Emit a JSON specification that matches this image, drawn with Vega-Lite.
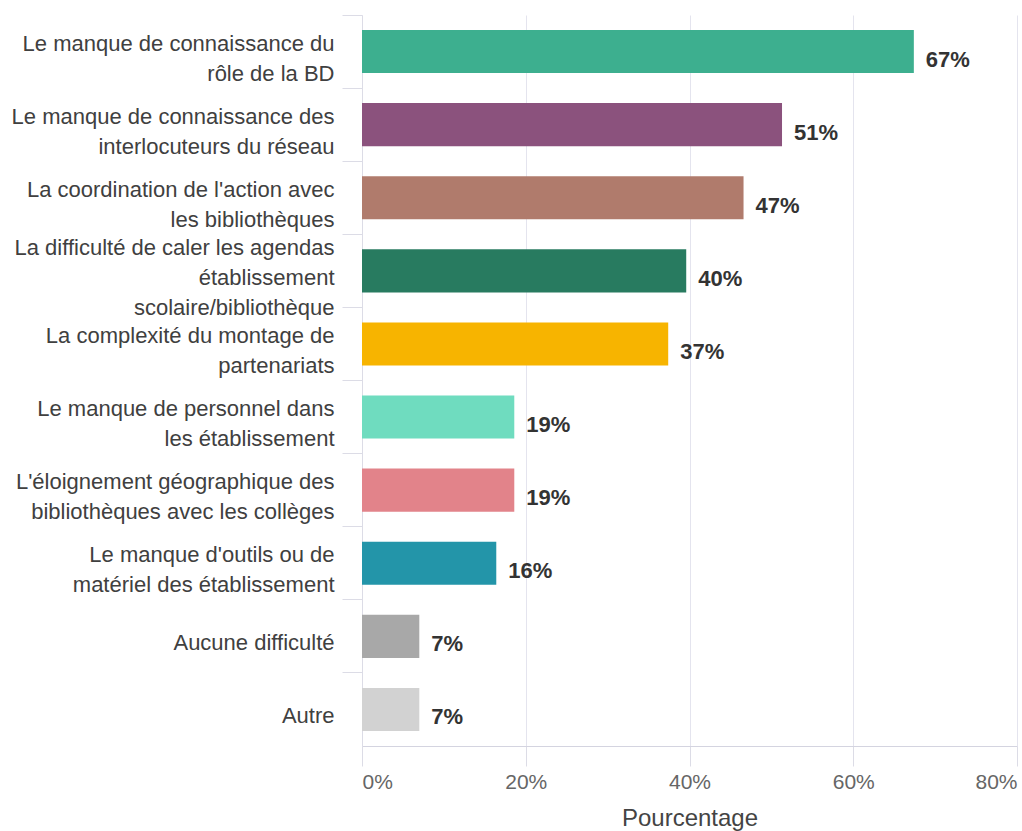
{
  "$schema": "https://vega.github.io/schema/vega-lite/v6.json",
  "autosize": "none",
  "padding": {"left": 362, "top": 15, "right": 5, "bottom": 85},
  "width": 655,
  "height": 731,
  "background": "white",
  "config": {
    "view": {"stroke": null},
    "font": "Liberation Sans"
  },
  "data": {
    "values": [
      {"difficulte": "Le manque de connaissance du\nrôle de la BD", "part": 0.674},
      {"difficulte": "Le manque de connaissance des\ninterlocuteurs du réseau", "part": 0.513},
      {"difficulte": "La coordination de l'action avec\nles bibliothèques", "part": 0.466},
      {"difficulte": "La difficulté de caler les agendas\nétablissement\nscolaire/bibliothèque", "part": 0.396},
      {"difficulte": "La complexité du montage de\npartenariats", "part": 0.374},
      {"difficulte": "Le manque de personnel dans\nles établissement", "part": 0.186},
      {"difficulte": "L'éloignement géographique des\nbibliothèques avec les collèges", "part": 0.186},
      {"difficulte": "Le manque d'outils ou de\nmatériel des établissement", "part": 0.164},
      {"difficulte": "Aucune difficulté", "part": 0.07},
      {"difficulte": "Autre", "part": 0.07}
    ]
  },
  "encoding": {
    "y": {
      "field": "difficulte",
      "type": "nominal",
      "sort": null,
      "scale": {"paddingInner": 0, "paddingOuter": 0},
      "axis": {
        "title": null,
        "bandPosition": 0,
        "tickSize": 20,
        "tickColor": "#dcdce6",
        "domainColor": "#dcdce6",
        "labelPadding": 8,
        "labelFontSize": 22,
        "labelLineHeight": 30,
        "labelBaseline": "middle",
        "labelOffset": {
          "condition": [
            {"test": "length(split(datum.value, '\\n')) == 1", "value": 7},
            {"test": "length(split(datum.value, '\\n')) == 3", "value": -23}
          ],
          "value": -8
        },
        "labelColor": "#404040",
        "labelLimit": 500,
        "labelExpr": "split(datum.value, '\\n')"
      }
    },
    "x": {
      "field": "part",
      "type": "quantitative",
      "scale": {"domain": [0, 0.8]},
      "axis": {
        "values": [0, 0.2, 0.4, 0.6, 0.8],
        "format": ".0%",
        "grid": true,
        "gridColor": "#e4e4ee",
        "tickSize": 20,
        "tickColor": "#dcdce6",
        "domainColor": "#d4d4e0",
        "labelPadding": 5,
        "labelFontSize": 21,
        "labelColor": "#666666",
        "title": "Pourcentage",
        "titleFontSize": 24,
        "titleFontWeight": "normal",
        "titleColor": "#444444",
        "titlePadding": 14
      }
    }
  },
  "layer": [
    {
      "mark": {"type": "bar", "height": {"band": 0.59}},
      "encoding": {
        "color": {
          "field": "difficulte",
          "type": "nominal",
          "legend": null,
          "scale": {
            "domain": [
              "Le manque de connaissance du\nrôle de la BD",
              "Le manque de connaissance des\ninterlocuteurs du réseau",
              "La coordination de l'action avec\nles bibliothèques",
              "La difficulté de caler les agendas\nétablissement\nscolaire/bibliothèque",
              "La complexité du montage de\npartenariats",
              "Le manque de personnel dans\nles établissement",
              "L'éloignement géographique des\nbibliothèques avec les collèges",
              "Le manque d'outils ou de\nmatériel des établissement",
              "Aucune difficulté",
              "Autre"
            ],
            "range": ["#3daf8f", "#8b527d", "#b07b6c", "#287b60", "#f7b400", "#6fdcbf", "#e2838a", "#2395a9", "#a8a8a8", "#d2d2d2"]
          }
        }
      }
    },
    {
      "mark": {"type": "text", "align": "left", "baseline": "middle", "dx": 12, "dy": 8, "fontWeight": "bold", "fontSize": 22, "color": "#333333"},
      "encoding": {
        "text": {"field": "part", "type": "quantitative", "format": ".0%"}
      }
    }
  ]
}
